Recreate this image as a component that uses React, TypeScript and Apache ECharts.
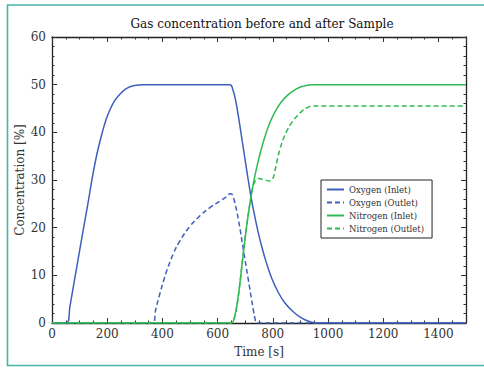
import React, { useEffect, useRef } from "react";
import * as echarts from "echarts";

// Time axis [s] and concentration axis [%]
const timeMin = 0;
const timeMax = 1500;
const concMin = 0;
const concMax = 60;

const chartTitle = "Gas concentration before and after Sample";
const xName = "Time [s]";
const yName = "Concentration [%]";

// [time s, concentration %]
const oxygenInlet: [number, number][] = [
  [0, 0], [53, 0], [65, 3.5], [80, 8.5], [95, 13.5], [113, 19.5],
  [130, 25], [146, 30.5], [163, 35.5], [180, 39.5], [196, 42.7],
  [212, 45], [229, 46.8], [246, 48], [265, 49], [285, 49.6], [305, 49.9],
  [330, 50], [645, 50], [655, 49], [665, 46.8], [675, 43.5], [687, 39],
  [699, 34.5], [711, 30], [720, 26.8], [729, 24], [744, 19.8], [760, 16],
  [778, 12.4], [796, 9.4], [820, 6.4], [844, 4.2], [875, 2.3], [905, 1],
  [930, 0.35], [955, 0], [1500, 0],
];

const oxygenOutlet: [number, number][] = [
  [0, 0], [367, 0], [375, 2.6], [391, 6.2], [405, 9], [416, 11],
  [440, 14.6], [464, 17.3], [500, 20.3], [536, 22.5], [572, 24.2],
  [609, 25.6], [630, 26.4], [645, 27.1], [652, 27], [660, 25.8],
  [675, 21.8], [693, 15.5], [711, 9.2], [722, 5.3], [729, 2.9],
  [736, 0.8], [742, 0], [1500, 0],
];

const nitrogenInlet: [number, number][] = [
  [0, 0], [650, 0], [658, 0.6], [668, 3], [678, 7], [690, 13],
  [705, 20.2], [719, 25.8], [730, 29.4], [742, 32.7], [757, 36.2],
  [772, 39.2], [790, 42.1], [808, 44.3], [830, 46.3], [856, 47.9],
  [880, 48.9], [905, 49.6], [941, 50], [1500, 50],
];

const nitrogenOutlet: [number, number][] = [
  [0, 0], [650, 0], [658, 0.6], [668, 3], [678, 7], [690, 13],
  [705, 20.2], [719, 25.8], [728, 28.5], [737, 29.9], [748, 30.3],
  [770, 30], [790, 29.8], [800, 30.3], [808, 32], [817, 34.4],
  [826, 36.5], [838, 38.6], [850, 40.2], [868, 42], [887, 43.4],
  [905, 44.4], [923, 45.1], [941, 45.5], [1500, 45.5],
];

const seriesNames = [
  "Oxygen (Inlet)",
  "Oxygen (Outlet)",
  "Nitrogen (Inlet)",
  "Nitrogen (Outlet)",
];

const BLUE = "#3e5fbe";
const GREEN = "#2fba52";
const FONT = "DejaVu Serif";

function makeAxis(opts: {
  position: string;
  min: number;
  max: number;
  interval: number;
  tickLen: number;
  line: boolean;
  labels: boolean;
  showMax?: boolean;
  name?: string;
  nameGap?: number;
  labelMargin?: number;
}) {
  return {
    type: "value",
    position: opts.position,
    min: opts.min,
    max: opts.max,
    interval: opts.interval,
    name: opts.name,
    nameLocation: "middle",
    nameGap: opts.nameGap,
    nameMoveOverlap: false,
    nameTextStyle: { fontFamily: FONT, fontSize: 12, color: "#333" },
    axisLine: {
      show: opts.line,
      onZero: false,
      lineStyle: { color: "#222", width: 1.3 },
    },
    axisTick: {
      show: true,
      inside: true,
      length: opts.tickLen,
      lineStyle: { color: "#333", width: 1 },
    },
    axisLabel: {
      show: opts.labels,
      showMaxLabel: !!opts.showMax,
      fontFamily: FONT,
      fontSize: 12,
      color: "#333",
      margin: opts.labelMargin ?? 6,
      formatter: (v: number) => String(v),
    },
    splitLine: { show: false },
  };
}

export default function App() {
  const ref = useRef<HTMLDivElement>(null);

  useEffect(() => {
    if (!ref.current) return;
    const chart = echarts.init(ref.current, undefined, { renderer: "svg" });

    const dataSets = [oxygenInlet, oxygenOutlet, nitrogenInlet, nitrogenOutlet];
    const colors = [BLUE, BLUE, GREEN, GREEN];
    const dashed = [false, true, false, true];

    chart.setOption({
      animation: false,
      backgroundColor: "#ffffff",
      title: {
        text: chartTitle,
        left: 257,
        textAlign: "center",
        top: 13,
        textStyle: {
          fontFamily: FONT,
          fontSize: 12,
          fontWeight: "normal",
          color: "#111",
        },
      },
      grid: { left: 52, right: 18, top: 37, bottom: 45, containLabel: false },
      xAxis: [
        makeAxis({ position: "bottom", min: timeMin, max: timeMax, interval: 200, tickLen: 5, line: true, labels: true, name: xName, nameGap: 23, labelMargin: 5 }),
        makeAxis({ position: "bottom", min: timeMin, max: timeMax, interval: 50, tickLen: 2.5, line: false, labels: false }),
        makeAxis({ position: "top", min: timeMin, max: timeMax, interval: 200, tickLen: 5, line: true, labels: false }),
        makeAxis({ position: "top", min: timeMin, max: timeMax, interval: 50, tickLen: 2.5, line: false, labels: false }),
      ],
      yAxis: [
        makeAxis({ position: "left", min: concMin, max: concMax, interval: 10, tickLen: 5, line: true, labels: true, showMax: true, name: yName, nameGap: 26 }),
        makeAxis({ position: "left", min: concMin, max: concMax, interval: 2, tickLen: 2.5, line: false, labels: false }),
        makeAxis({ position: "right", min: concMin, max: concMax, interval: 10, tickLen: 5, line: true, labels: false }),
        makeAxis({ position: "right", min: concMin, max: concMax, interval: 2, tickLen: 2.5, line: false, labels: false }),
      ],
      legend: {
        orient: "vertical",
        left: 321,
        top: 180,
        padding: [5, 8, 5, 5],
        itemGap: 4,
        itemWidth: 17,
        itemHeight: 11,
        borderColor: "#222",
        borderWidth: 1,
        backgroundColor: "#ffffff",
        data: seriesNames,
        itemStyle: { opacity: 0, borderWidth: 0 },
        textStyle: { fontFamily: FONT, fontSize: 8.5, color: "#333" },
      },
      graphic: [
        {
          type: "polyline",
          silent: true,
          shape: { points: [[484, 5], [7.5, 5], [7.5, 365.5], [484, 365.5]] },
          style: { stroke: "#45b5a6", lineWidth: 1.6, fill: "none" },
        },
      ],
      series: dataSets.map((d, i) => ({
        type: "line",
        name: seriesNames[i],
        data: d,
        xAxisIndex: 0,
        yAxisIndex: 0,
        showSymbol: false,
        symbol: "none",
        smooth: 0.4,
        z: 3,
        lineStyle: {
          color: colors[i],
          width: 1.5,
          type: dashed[i] ? [5, 3] : "solid",
        },
        itemStyle: { color: colors[i] },
      })),
    });

    return () => chart.dispose();
  }, []);

  return (
    <div
      ref={ref}
      style={{ position: "fixed", left: 0, top: 0, width: 484, height: 368 }}
    />
  );
}
